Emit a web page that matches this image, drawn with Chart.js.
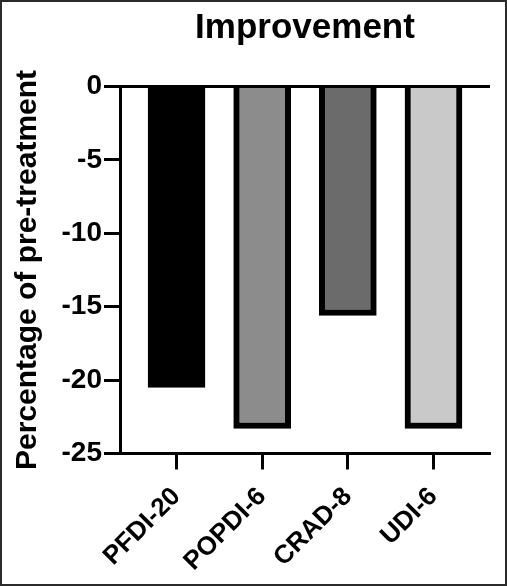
<!DOCTYPE html>
<html>
<head>
<meta charset="utf-8">
<script src="https://cdn.jsdelivr.net/npm/chart.js@4.4.1/dist/chart.umd.min.js"></script>
<style>
  html, body { margin: 0; padding: 0; background: #fff; }
  #wrap { width: 507px; height: 586px; box-sizing: border-box; border: 2px solid #2b2b2b; position: relative; }
</style>
</head>
<body>
<div id="wrap"><canvas id="barChart"></canvas></div>
<script>
const categories = ['PFDI-20', 'POPDI-6', 'CRAD-8', 'UDI-6']
const improvement = [-20.5, -23.3, -15.6, -23.3]
const barColors = ['#000000', '#8c8c8c', '#6b6b6b', '#c9c9c9']
const yTicks = [0, -5, -10, -15, -20, -25]

const fontFamily = "'Liberation Sans', Arial, sans-serif"

const barData = categories.map((c, i) => ({ x: i, y: improvement[i] }))

const barChartCanvas = document.getElementById('barChart')
const barChart = new Chart(barChartCanvas, {
  type: 'bar',
  data: {
    datasets: [{
      label: 'Improvement',
      data: barData,
      backgroundColor: barColors,
      borderColor: '#000',
      borderWidth: 6,
      barThickness: 57,
    }],
  },
  options: {
    responsive: true,
    maintainAspectRatio: false,
    animation: false,
    layout: { padding: { left: 0, right: 15, top: 0, bottom: 0 } },
    plugins: {
      legend: { display: false },
      tooltip: { enabled: false },
      title: {
        display: true,
        text: 'Improvement',
        fullSize: false,
        color: '#000',
        font: { family: fontFamily, size: 35, weight: 'bold' },
        padding: { top: 5, bottom: 37.5 },
      },
    },
    scales: {
      x: {
        type: 'linear',
        min: -0.66,
        max: 3.66,
        offset: false,
        afterBuildTicks: (scale) => {
          scale.ticks = categories.map((c, i) => ({ value: i }))
        },
        afterFit: (scale) => { scale.height = 130.5 },
        ticks: {
          autoSkip: false,
          minRotation: 45,
          maxRotation: 45,
          padding: 12,
          color: '#000',
          font: { family: fontFamily, size: 26, weight: 'bold' },
          callback: (v) => categories[v],
        },
        grid: {
          offset: false,
          drawOnChartArea: false,
          color: '#000',
          tickLength: 16,
          tickWidth: 3,
        },
        border: { display: true, color: '#000', width: 3 },
      },
      y: {
        min: -25,
        max: 0,
        z: 1,
        afterBuildTicks: (scale) => {
          scale.ticks = yTicks.map(v => ({ value: v }))
        },
        afterFit: (scale) => { scale.width = 118 },
        ticks: {
          padding: 2,
          color: '#000',
          font: { family: fontFamily, size: 28, weight: 'bold' },
        },
        grid: {
          drawOnChartArea: true,
          color: (ctx) => (ctx.tick && ctx.tick.value === 0 ? '#000' : 'rgba(0,0,0,0)'),
          lineWidth: 3,
          tickColor: '#000',
          tickLength: 16,
          tickWidth: 3,
        },
        border: { display: true, color: '#000', width: 3 },
        title: {
          display: true,
          text: 'Percentage of pre-treatment',
          color: '#000',
          font: { family: fontFamily, size: 30, weight: 'bold' },
          padding: { top: 8, bottom: 0 },
        },
      },
    },
  },
})
</script>
</body>
</html>
